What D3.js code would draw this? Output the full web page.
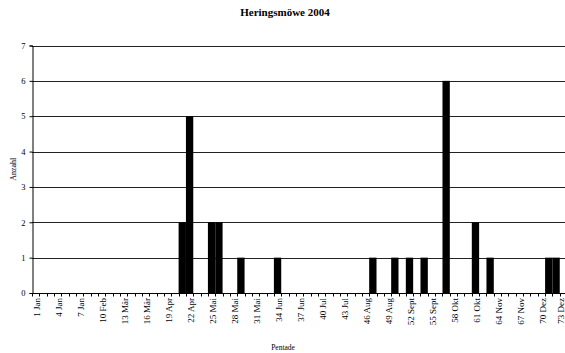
<!DOCTYPE html>
<html>
<head>
<meta charset="utf-8">
<script src="https://cdn.jsdelivr.net/npm/d3@7"></script>
<style>
  body { margin: 0; background: #fff; }
  svg { display: block; font-family: "Liberation Serif", "Times New Roman", serif; }
</style>
</head>
<body>
<svg id="chart" width="565" height="353"></svg>
<script>
// Pentades 1..73 of the year
const pentades = d3.range(1, 74);

// Observed counts per pentade (only non-zero pentades listed)
const countPentades = [21, 22, 25, 26, 29, 34, 47, 50, 52, 54, 57, 61, 63, 71, 72];
const countValues   = [ 2,  5,  2,  2,  1,  1,  1,  1,  1,  1,  6,  2,  1,  1,  1];

// Labelled pentades on the category axis
const labelPentades = [1, 4, 7, 10, 13, 16, 19, 22, 25, 28, 31, 34, 37, 40, 43, 46, 49, 52, 55, 58, 61, 64, 67, 70, 73];
const labelTexts = ["1 Jan", "4 Jan", "7 Jan", "10 Feb", "13 Mär", "16 Mär", "19 Apr", "22 Apr", "25 Mai",
  "28 Mai", "31 Mai", "34 Jun", "37 Jun", "40 Jul", "43 Jul", "46 Aug", "49 Aug", "52 Sept", "55 Sept",
  "58 Okt", "61 Okt", "64 Nov", "67 Nov", "70 Dez", "73 Dez"];

const yTicks = [0, 1, 2, 3, 4, 5, 6, 7];

(function () {
  const W = 565;
  const svg = d3.select("#chart");
  const plotLeft = 32, bandW = 7.33, plotTop = 45.5, plotBottom = 293;
  const plotRight = plotLeft + bandW * pentades.length;

  const x = d3.scaleBand().domain(pentades).range([plotLeft, plotRight]).paddingInner(0).paddingOuter(0);
  const y = d3.scaleLinear().domain([0, 7]).range([plotBottom, plotTop]);

  const countByPentade = new Map(countPentades.map((p, i) => [p, countValues[i]]));
  const data = pentades.map(p => ({ p, v: countByPentade.get(p) || 0 }));

  // Horizontal gridlines
  svg.append("g")
    .selectAll("line")
    .data(yTicks.filter(t => t > 0))
    .join("line")
    .attr("x1", plotLeft).attr("x2", plotRight)
    .attr("y1", d => Math.round(y(d)) + 0.5).attr("y2", d => Math.round(y(d)) + 0.5)
    .attr("stroke", "#222").attr("stroke-width", 1);

  // Bars
  svg.append("g")
    .selectAll("rect")
    .data(data.filter(d => d.v > 0))
    .join("rect")
    .attr("x", d => x(d.p))
    .attr("width", x.bandwidth())
    .attr("y", d => y(d.v))
    .attr("height", d => y(0) - y(d.v))
    .attr("fill", "#000");

  // Y axis
  const yAxis = d3.axisLeft(y).tickValues(yTicks).tickSize(3).tickPadding(4).tickFormat(d3.format("d"));
  const gy = svg.append("g").attr("transform", `translate(${plotLeft + 0.5},0)`).call(yAxis);
  gy.select(".domain").attr("stroke", "#000");
  gy.selectAll(".tick line").attr("stroke", "#000");
  gy.selectAll("text").attr("font-size", 8.5).attr("fill", "#000").attr("font-family", "Liberation Serif");

  // X axis line and tick marks at category boundaries
  const gx = svg.append("g");
  gx.append("line")
    .attr("x1", plotLeft).attr("x2", plotRight)
    .attr("y1", plotBottom + 0.5).attr("y2", plotBottom + 0.5)
    .attr("stroke", "#000");
  gx.selectAll("line.tk")
    .data(pentades.concat([74]))
    .join("line")
    .attr("class", "tk")
    .attr("x1", d => Math.round(plotLeft + (d - 1) * bandW) + 0.5)
    .attr("x2", d => Math.round(plotLeft + (d - 1) * bandW) + 0.5)
    .attr("y1", plotBottom).attr("y2", plotBottom + 3.5)
    .attr("stroke", "#000");

  // Rotated category labels (kept inside the right edge)
  gx.selectAll("text")
    .data(labelPentades)
    .join("text")
    .attr("transform", d => {
      const cx = Math.min(x(d) + x.bandwidth() / 2 + 1, W - 4.5);
      return `translate(${cx},${plotBottom + 5}) rotate(-90)`;
    })
    .attr("text-anchor", "end")
    .attr("dy", "0.35em")
    .attr("font-size", 9)
    .attr("fill", "#000")
    .text((d, i) => labelTexts[i]);

  // Title and axis titles
  svg.append("text")
    .attr("x", 285).attr("y", 16)
    .attr("text-anchor", "middle")
    .attr("font-size", 11).attr("font-weight", "bold")
    .text("Heringsmöwe 2004");

  svg.append("text")
    .attr("transform", `translate(16,${(plotTop + plotBottom) / 2}) rotate(-90)`)
    .attr("text-anchor", "middle")
    .attr("font-size", 8)
    .text("Anzahl");

  svg.append("text")
    .attr("x", 283).attr("y", 350)
    .attr("text-anchor", "middle")
    .attr("font-size", 7.5)
    .text("Pentade");
})();
</script>
</body>
</html>
